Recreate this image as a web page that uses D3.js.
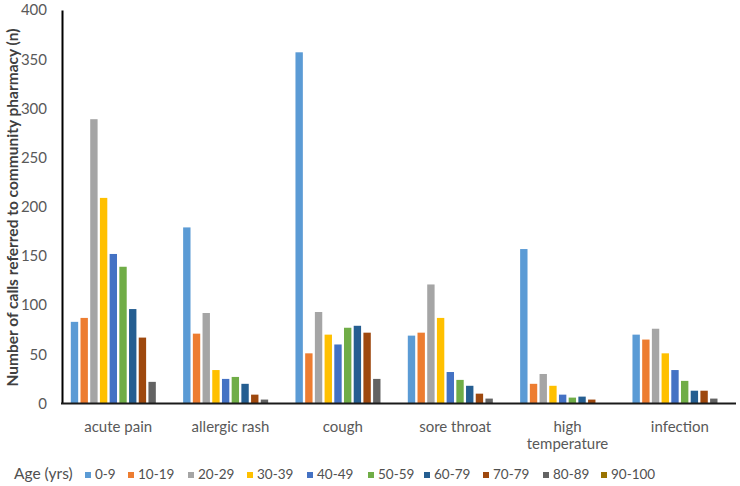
<!DOCTYPE html>
<html>
<head>
<meta charset="utf-8">
<script src="https://cdn.jsdelivr.net/npm/d3@7"></script>
<style>
  body { margin: 0; background: #fff; }
  svg { display: block; font-family: Lato, "Open Sans", sans-serif; }
</style>
</head>
<body>
<svg id="chart" width="740" height="486"></svg>
<script>
const categories = ["acute pain", "allergic rash", "cough", "sore throat", "high temperature", "infection"];
const ageGroups = ["0-9", "10-19", "20-29", "30-39", "40-49", "50-59", "60-79", "70-79", "80-89", "90-100"];
const colors = ["#5B9BD5", "#ED7D31", "#A5A5A5", "#FFC000", "#4472C4", "#70AD47", "#255E91", "#9E480E", "#636363", "#997300"];
// values per age group, in category order
const v0_9    = [83, 179, 357, 69, 157, 70];
const v10_19  = [87, 71, 51, 72, 20, 65];
const v20_29  = [289, 92, 93, 121, 30, 76];
const v30_39  = [209, 34, 70, 87, 18, 51];
const v40_49  = [152, 25, 60, 32, 9, 34];
const v50_59  = [139, 27, 77, 24, 6, 23];
const v60_79  = [96, 20, 79, 18, 7, 13];
const v70_79  = [67, 9, 72, 10, 4, 13];
const v80_89  = [22, 4, 25, 5, 0, 5];
const v90_100 = [0, 0, 0, 0, 0, 0];
const yTicks = [0, 50, 100, 150, 200, 250, 300, 350, 400];

const series = [v0_9, v10_19, v20_29, v30_39, v40_49, v50_59, v60_79, v70_79, v80_89, v90_100];

const svg = d3.select("#chart");
const mLeft = 62, mRight = 736, mTop = 10, mBottom = 403.5;

const x0 = d3.scaleBand().domain(categories).range([mLeft, mRight]).paddingInner(0.136).paddingOuter(0.068);
const x1 = d3.scaleBand().domain(ageGroups).range([0, x0.bandwidth()]).paddingInner(0.24).paddingOuter(0.12);
const y = d3.scaleLinear().domain([0, 400]).range([mBottom, mTop]);

const data = [];
categories.forEach((c, ci) => {
  ageGroups.forEach((g, gi) => {
    data.push({cat: c, grp: g, gi: gi, v: series[gi][ci]});
  });
});

svg.append("g").selectAll("rect").data(data).join("rect")
  .attr("x", d => x0(d.cat) + x1(d.grp))
  .attr("y", d => y(d.v))
  .attr("width", x1.bandwidth())
  .attr("height", d => y(0) - y(d.v))
  .attr("fill", d => colors[d.gi]);

// Y axis
const yAxis = d3.axisLeft(y).tickValues(yTicks).tickSize(0).tickPadding(15);
const gy = svg.append("g").attr("transform", `translate(${mLeft},0)`).call(yAxis);
gy.select(".domain").attr("stroke", "#000").attr("stroke-width", 2);
gy.selectAll("text").attr("font-size", 15).attr("fill", "#595959").attr("font-family", "Lato, sans-serif");

// X axis
const xAxis = d3.axisBottom(x0).tickSize(0).tickPadding(0);
const gx = svg.append("g").attr("transform", `translate(0,${mBottom})`).call(xAxis);
gx.select(".domain").attr("stroke", "#1a1a1a").attr("stroke-width", 2).attr("d", `M${mLeft - 1},0H${mRight}`);
gx.selectAll(".tick text").each(function(d) {
  const t = d3.select(this);
  t.text(null).attr("font-size", 15).attr("fill", "#595959").attr("font-family", "Lato, sans-serif").attr("y", 0).attr("dy", null);
  const lines = d === "high temperature" ? ["high", "temperature"] : [d];
  lines.forEach((ln, i) => {
    t.append("tspan").attr("x", 0).attr("y", 28 + i * 17).text(ln);
  });
});

// Y title
svg.append("text")
  .attr("transform", "translate(18,207.5) rotate(-90)")
  .attr("text-anchor", "middle")
  .attr("font-size", 15.5)
  .attr("font-weight", "bold")
  .attr("fill", "#404040")
  .text("Number of calls referred to community pharmacy (n)");

// Legend
const lg = svg.append("g").attr("font-size", 13.5).attr("fill", "#505050");
lg.append("text").attr("x", 14).attr("y", 479).attr("font-size", 15.5).text("Age (yrs)");
const legendX = [85, 128, 188, 247, 307, 368, 424, 483, 543, 601];
ageGroups.forEach((g, i) => {
  lg.append("rect").attr("x", legendX[i]).attr("y", 472).attr("width", 6).attr("height", 6).attr("fill", colors[i]);
  lg.append("text").attr("x", legendX[i] + 10).attr("y", 479).text(g);
});
</script>
</body>
</html>
